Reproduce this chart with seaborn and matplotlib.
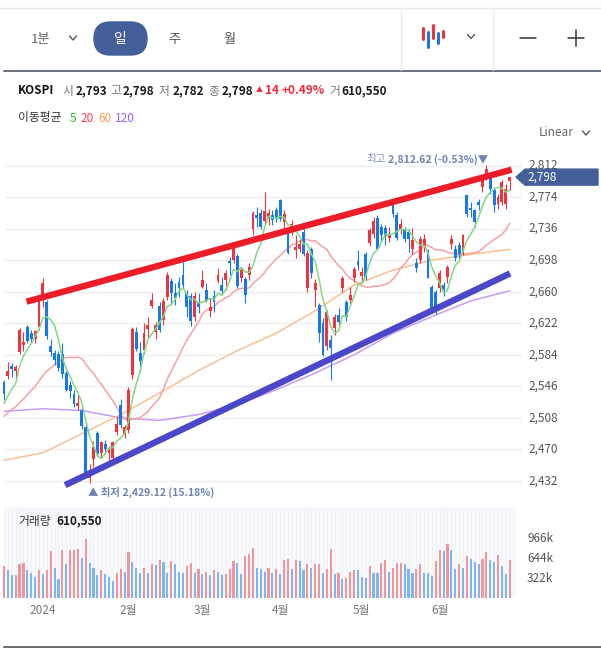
import numpy as np
import pandas as pd
import matplotlib
matplotlib.use('Agg')
import matplotlib.pyplot as plt
import seaborn as sns
from matplotlib.patches import Polygon, FancyBboxPatch
from matplotlib.lines import Line2D
from matplotlib.transforms import IdentityTransform

sns.set_theme(style='white')
plt.rcParams['font.family'] = ['Noto Sans CJK KR', 'DejaVu Sans']

# ---- daily candles, 2023-12-14 .. 2024-06-28 ----
opens = [2551, 2558, 2570, 2565, 2587, 2596, 2618, 2610, 2603, 2617,
         2650, 2647, 2594, 2586, 2585, 2585, 2562, 2548, 2537, 2522,
         2517, 2497, 2436, 2458, 2490, 2466, 2476, 2466, 2460, 2491,
         2524, 2489, 2493, 2560, 2612, 2586, 2590, 2615, 2643, 2611,
         2643, 2626, 2654, 2673, 2659, 2672, 2680, 2658, 2655, 2630,
         2648, 2666, 2662, 2637, 2655, 2673, 2668, 2674, 2697, 2698,
         2703, 2676, 2675, 2680, 2735, 2752, 2755, 2745, 2748, 2752,
         2758, 2770, 2744, 2731, 2735, 2710, 2712, 2732, 2665, 2712,
         2662, 2644, 2622, 2594, 2602, 2616, 2632, 2664, 2648, 2650,
         2676, 2697, 2679, 2705, 2719, 2730, 2749, 2738, 2737, 2725,
         2767, 2752, 2735, 2734, 2732, 2712, 2695, 2698, 2715, 2710,
         2666, 2660, 2665, 2668, 2678, 2718, 2712, 2716, 2708, 2776,
         2761, 2758, 2768, 2786, 2802, 2797, 2782, 2766, 2768, 2766,
         2793]
highs = [2554, 2575, 2574, 2572, 2616, 2611, 2620, 2614, 2614, 2656,
         2676, 2650, 2603, 2590, 2588, 2598, 2565, 2552, 2542, 2536,
         2520, 2503, 2452, 2480, 2492, 2480, 2481, 2474, 2480, 2510,
         2531, 2499, 2545, 2617, 2617, 2599, 2622, 2630, 2658, 2624,
         2647, 2652, 2684, 2676, 2671, 2678, 2696, 2662, 2658, 2660,
         2658, 2686, 2670, 2652, 2662, 2688, 2678, 2686, 2702, 2720,
         2706, 2690, 2678, 2694, 2757, 2762, 2760, 2780, 2760, 2758,
         2762, 2772, 2758, 2735, 2746, 2728, 2724, 2736, 2710, 2714,
         2675, 2646, 2628, 2638, 2608, 2633, 2640, 2679, 2650, 2666,
         2690, 2710, 2690, 2708, 2737, 2750, 2752, 2742, 2740, 2738,
         2770, 2756, 2748, 2738, 2735, 2737, 2700, 2727, 2730, 2712,
         2668, 2662, 2686, 2672, 2692, 2728, 2716, 2720, 2730, 2778,
         2768, 2760, 2772, 2800, 2812.62, 2800, 2786, 2778, 2794, 2790,
         2798]
lows = [2530, 2555, 2557, 2556, 2585, 2588, 2598, 2600, 2598, 2614,
        2641, 2603, 2583, 2572, 2565, 2556, 2540, 2532, 2521, 2517,
        2495, 2436, 2429.12, 2449, 2462, 2460, 2465, 2456, 2455, 2488,
        2496, 2484, 2490, 2555, 2588, 2563, 2585, 2606, 2640, 2603,
        2612, 2620, 2650, 2646, 2644, 2654, 2663, 2630, 2619, 2625,
        2634, 2664, 2648, 2629, 2636, 2670, 2656, 2662, 2680, 2695,
        2664, 2672, 2646, 2674, 2728, 2738, 2735, 2740, 2740, 2740,
        2744, 2745, 2735, 2705, 2728, 2700, 2708, 2703, 2660, 2677,
        2642, 2600, 2582, 2590, 2554, 2608, 2620, 2660, 2625, 2644,
        2672, 2686, 2670, 2674, 2715, 2725, 2710, 2722, 2716, 2720,
        2750, 2722, 2730, 2720, 2708, 2706, 2684, 2695, 2708, 2676,
        2634, 2633, 2660, 2655, 2670, 2712, 2697, 2700, 2704, 2750,
        2750, 2738, 2758, 2780, 2795, 2778, 2756, 2760, 2765, 2760,
        2782]
closes = [2537, 2564, 2567, 2569, 2614, 2600, 2601, 2603, 2613, 2655,
          2670, 2607, 2587, 2578, 2568, 2561, 2542, 2540, 2525, 2526,
          2498, 2438, 2440, 2473, 2464, 2479, 2470, 2470, 2479, 2501,
          2499, 2497, 2542, 2615, 2591, 2576, 2610, 2620, 2650, 2620,
          2614, 2649, 2680, 2658, 2653, 2664, 2668, 2642, 2625, 2655,
          2642, 2674, 2649, 2641, 2648, 2680, 2661, 2682, 2694, 2717,
          2667, 2686, 2656, 2690, 2755, 2749, 2738, 2757, 2755, 2746,
          2747, 2748, 2753, 2707, 2742, 2714, 2718, 2705, 2707, 2682,
          2670, 2610, 2584, 2635, 2592, 2629, 2623, 2676, 2629, 2656,
          2687, 2692, 2684, 2677, 2734, 2745, 2712, 2728, 2727, 2730,
          2753, 2725, 2742, 2724, 2723, 2722, 2688, 2723, 2723, 2677,
          2635, 2637, 2683, 2662, 2690, 2723, 2701, 2705, 2728, 2754,
          2758, 2744, 2764, 2797, 2808, 2784, 2765, 2774, 2792, 2784,
          2798]
# 거래량 (천 주)
volumes = [521, 451, 370, 372, 547, 564, 451, 413, 333, 451,
           386, 451, 757, 494, 306, 773, 547, 773, 775, 789,
           644, 950, 564, 494, 370, 451, 386, 333, 268, 413,
           467, 429, 741, 580, 494, 403, 494, 413, 547, 531,
           612, 580, 403, 596, 547, 429, 403, 515, 564, 403,
           478, 386, 429, 370, 451, 429, 370, 386, 478, 596,
           564, 386, 676, 708, 805, 494, 467, 429, 494, 403,
           478, 386, 612, 628, 467, 612, 608, 451, 547, 494,
           547, 549, 403, 467, 789, 386, 413, 306, 322, 429,
           451, 448, 333, 322, 515, 413, 403, 564, 612, 429,
           494, 564, 566, 547, 467, 413, 478, 547, 413, 410,
           354, 596, 773, 757, 869, 773, 478, 547, 494, 676,
           628, 580, 547, 628, 741, 612, 580, 692, 515, 386,
           611]
# closes of the 19 sessions before the window (for MA5 / MA20)
prior_closes = [2469.85, 2491.20, 2510.42, 2511.70, 2514.96, 2496.63, 2495.66,
                2521.76, 2520.10, 2535.29, 2505.01, 2514.95, 2494.28, 2495.38,
                2492.07, 2517.85, 2525.36, 2535.26, 2510.66]
# MA60 / MA120 every 10 sessions
ma_long_idx = [0, 10, 20, 30, 40, 50, 60, 70, 80, 90, 100, 110, 120, 130]
ma60_val = [2457, 2466, 2489, 2512, 2538, 2565, 2589, 2610, 2637, 2668, 2686, 2698, 2705, 2711]
ma120_val = [2516, 2519, 2517, 2508, 2505, 2512, 2524, 2542, 2562, 2584, 2610, 2630, 2649, 2661]

month_idx = [10, 32, 51, 71, 92, 112]
month_labels = ['2024', '2월', '3월', '4월', '5월', '6월']
price_ticks = [2432, 2470, 2508, 2546, 2584, 2622, 2660, 2698, 2736, 2774, 2812]
vol_ticks = [322, 644, 966]
vol_tick_labels = ['322k', '644k', '966k']

# drawn trend channel (session index, price)
upper_idx = [5.8, 130.5]
upper_val = [2648, 2807]
lower_idx = [15.7, 130.1]
lower_val = [2427, 2682]

RED = '#ef3340'
BLUE = '#1878e8'
VRED = '#f29498'
VBLUE = '#7db6f2'
NAVY = '#44609a'

W, H = 601, 653
X0, DX = 4.0, 3.89          # pixel of first session, pixels per session
P0, PY0, PPX = 2432, 481, 38 / 31.55


def ix(px):
    return (px - X0) / DX


def pv(py):
    return P0 + (PY0 - py) * PPX


def D(x, y):
    return x, H - y


ID = IdentityTransform()

df = pd.DataFrame({'o': opens, 'h': highs, 'l': lows, 'c': closes, 'v': volumes})
df['i'] = np.arange(len(df))
allc = pd.Series(prior_closes + closes, dtype=float)
n0 = len(prior_closes)
df['ma5'] = allc.rolling(5).mean().iloc[n0:].values
df['ma20'] = allc.rolling(20).mean().iloc[n0:].values

fig = plt.figure(figsize=(W / 100, H / 100), dpi=100)
fig.patch.set_facecolor('white')

# ---------- price panel ----------
ax = fig.add_axes([0, 1 - 497 / H, 522 / W, (497 - 150) / H])
ax.set_xlim(ix(0), ix(522))
ax.set_ylim(pv(497), pv(150))
ax.axis('off')

ax.hlines(price_ticks, ix(5), ix(522), color='#efefef', lw=1, zorder=0)
for p in price_ticks:
    ax.text(ix(528), p, f'{p:,}', ha='left', va='center', fontsize=8.5,
            color='#555555', clip_on=False)

sns.lineplot(x=ma_long_idx, y=ma120_val, ax=ax, color='#c79cf7', lw=1.1, zorder=2)
sns.lineplot(x=ma_long_idx, y=ma60_val, ax=ax, color='#fcbf8e', lw=1.1, zorder=2)
sns.lineplot(data=df, x='i', y='ma20', ax=ax, color='#f6a1a3', lw=1.1, zorder=2)

up = df['c'] >= df['o']
ccol = np.where(up, RED, BLUE)
ax.vlines(df['i'], df['l'], df['h'], colors=ccol, lw=0.8, zorder=3)
body = np.maximum((df['c'] - df['o']).abs(), 1.0)
ax.bar(df['i'], body, bottom=np.minimum(df['o'], df['c']), width=0.74,
       color=ccol, linewidth=0, zorder=3)

sns.lineplot(data=df, x='i', y='ma5', ax=ax, color='#84d884', lw=1.1, zorder=4)

ax.plot(upper_idx, upper_val, color='#ec1c28', lw=4.6, solid_capstyle='butt', zorder=5)
ax.plot(lower_idx, lower_val, color='#4a47c9', lw=4.6, solid_capstyle='butt', zorder=5)

# high / low markers
ih = int(df['h'].idxmax())
il = int(df['l'].idxmin())
hmax = df['h'].max()
lmin = df['l'].min()
t_hi = ax.annotate(f'{hmax:,.2f} (-0.53%)▼', xy=(ih, hmax), xytext=(1.5, 4.3),
                   textcoords='offset points', ha='right', va='center',
                   fontsize=7.5, color='#6f84b5', weight='bold')
t_lo = ax.annotate(f'▲ 최저 {lmin:,.2f} (15.18%)', xy=(il, lmin), xytext=(-1.2, -6.7),
                   textcoords='offset points', ha='left', va='center',
                   fontsize=7.5, color='#6f84b5', weight='bold')
fig.canvas.draw()
bb = t_hi.get_window_extent()
fig.text(bb.x0 - 3, (bb.y0 + bb.y1) / 2, '최고', transform=ID, ha='right',
         va='center', fontsize=7.5, color='#7f92bd')

# last price tag
_, ylast = ax.transData.transform((0, closes[-1]))
tag = Polygon([(516, ylast), (525, ylast + 8), (598, ylast + 8), (598, ylast - 8),
               (525, ylast - 8)], closed=True, transform=ID, color=NAVY, zorder=10)
fig.add_artist(tag)
fig.text(527, ylast, f'{closes[-1]:,}', transform=ID, ha='left', va='center',
         fontsize=8.5, color='white', zorder=11)

# ---------- volume panel ----------
axv = fig.add_axes([0, 1 - 598 / H, 522 / W, (598 - 507) / H])
axv.set_xlim(ix(0), ix(522))
axv.set_ylim(0, (598 - 507) * 966 / 59.5)
axv.axis('off')
axv.axvspan(ix(4), ix(516), color='#f7f8fc', zorder=0, lw=0)
axv.vlines(df['i'], 0, axv.get_ylim()[1], color='#eef0f7', lw=0.6, zorder=0)
vprev = df['v'].shift(1).fillna(0)
vcol = np.where(df['v'] >= vprev, VRED, VBLUE)
axv.bar(df['i'], df['v'], width=0.55, color=vcol, linewidth=0, zorder=2)
for v, lab in zip(vol_ticks, vol_tick_labels):
    axv.text(ix(527), v, lab, ha='left', va='center', fontsize=8.5,
             color='#555555', clip_on=False)
for m, lab in zip(month_idx, month_labels):
    axv.text(m, -0.135, lab, transform=axv.get_xaxis_transform(), ha='center',
             va='center', fontsize=8.5, color='#777777')

# ---------- header / toolbar ----------
def txt(x, y, s, **kw):
    kw.setdefault('fontsize', 9)
    kw.setdefault('va', 'center')
    fig.text(*D(x, y), s, transform=ID, **kw)


fig.add_artist(Line2D([0, W], [H - 7.5] * 2, transform=ID, color='#e8e8e8', lw=1))
fig.add_artist(Line2D([4, W], [H - 71] * 2, transform=ID, color='#5f6670', lw=1.3))
for sx in (401, 493):
    fig.add_artist(Line2D([sx, sx], [H - 8, H - 70], transform=ID, color='#ececec', lw=1))
fig.add_artist(Line2D([4, W], [H - 646.5] * 2, transform=ID, color='#6a6a6a', lw=1.4))


def chevron(x, y, c='#555555'):
    fig.add_artist(Line2D([x - 3.5, x, x + 3.5], [H - y + 2, H - y - 2, H - y + 2],
                          transform=ID, color=c, lw=1))


txt(31, 39, '1분', color='#666666', fontsize=9.5)
chevron(73, 38)
fig.add_artist(FancyBboxPatch((94, H - 55), 53, 33, boxstyle='round,pad=0,rounding_size=16.5',
                              transform=ID, color=NAVY))
txt(120.5, 38.5, '일', color='white', ha='center', fontsize=10)
txt(174, 39, '주', color='#555555', ha='center', fontsize=9.5)
txt(229, 39, '월', color='#555555', ha='center', fontsize=9.5)
for bx, y0, y1, c in [(423, 28, 39, RED), (428, 32, 47, BLUE), (433, 25, 38, RED),
                      (438, 33, 43, BLUE), (443, 31, 37, RED)]:
    fig.add_artist(Line2D([bx, bx], [H - y0, H - y1], transform=ID, color=c, lw=2.2))
chevron(471, 36.5)
fig.add_artist(Line2D([520, 536], [H - 38] * 2, transform=ID, color='#333333', lw=1.1))
fig.add_artist(Line2D([568, 584], [H - 38] * 2, transform=ID, color='#333333', lw=1.1))
fig.add_artist(Line2D([576, 576], [H - 30, H - 46], transform=ID, color='#333333', lw=1.1))

GR = '#777777'
DK = '#1a1a1a'
HF = 8.5
txt(18, 91, 'KOSPI', color='#111111', weight='bold', fontsize=HF)
for x, s, c, w in [(62, '시', GR, 'normal'), (75.5, '2,793', DK, 'bold'),
                   (110, '고', GR, 'normal'), (122.5, '2,798', DK, 'bold'),
                   (159, '저', GR, 'normal'), (172.5, '2,782', DK, 'bold'),
                   (208, '종', GR, 'normal'), (221.5, '2,798', DK, 'bold'),
                   (265, '14', '#ee2a3a', 'bold'), (282, '+0.49%', '#ee2a3a', 'bold'),
                   (329, '거', GR, 'normal'), (341, '610,550', DK, 'bold')]:
    txt(x, 91, s, color=c, weight=w, fontsize=HF)
txt(256, 90.5, '▲', color='#ee2a3a', fontsize=5)

txt(18, 118, '이동평균', color='#333333', fontsize=HF)
txt(70, 118, '5', color='#22bb22', fontsize=HF)
txt(80, 118, '20', color='#ff3b4e', fontsize=HF)
txt(98, 118, '60', color='#ff9a55', fontsize=HF)
txt(115, 118, '120', color='#9a5cff', fontsize=HF)
txt(539, 133, 'Linear', color='#666666', fontsize=8.5)
chevron(586, 133)

txt(18, 521, '거래량', color='#333333', fontsize=8.5)
txt(56, 521, '610,550', color=DK, fontsize=8.5, weight='bold')

fig.savefig('out.png', dpi=100, facecolor='white')
